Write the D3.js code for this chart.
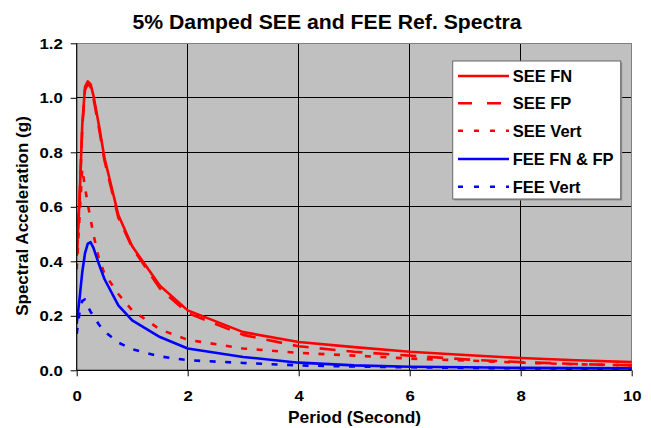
<!DOCTYPE html>
<html>
<head>
<meta charset="utf-8">
<script src="https://cdn.jsdelivr.net/npm/d3@7"></script>
<style>
  html, body { margin: 0; padding: 0; background: #fff; }
  svg { display: block; }
  text { font-family: "Liberation Sans", Arial, sans-serif; font-weight: bold; fill: #000; }
</style>
</head>
<body>
<svg id="chart" width="651" height="428"></svg>
<script>
// ---- data ----
const periods  = [0, 0.05, 0.1, 0.15, 0.2, 0.25, 0.3, 0.4, 0.5, 0.75, 1.0, 1.5, 2, 3, 4, 5, 6, 7, 8, 9, 10];
const seeFN    = [0.42, 0.62, 0.90, 1.04, 1.06, 1.05, 1.01, 0.90, 0.78, 0.57, 0.455, 0.31, 0.22, 0.14, 0.104, 0.085, 0.068, 0.056, 0.045, 0.037, 0.030];
const seeFP    = [0.42, 0.62, 0.89, 1.03, 1.05, 1.04, 1.00, 0.89, 0.77, 0.56, 0.45, 0.30, 0.21, 0.13, 0.088, 0.068, 0.054, 0.040, 0.030, 0.023, 0.018];
const seeVert  = [0.37, 0.56, 0.74, 0.67, 0.61, 0.555, 0.50, 0.41, 0.355, 0.28, 0.22, 0.15, 0.112, 0.080, 0.064, 0.054, 0.043, 0.036, 0.028, 0.022, 0.018];
const feeFNFP  = [0.17, 0.26, 0.36, 0.43, 0.465, 0.47, 0.45, 0.39, 0.335, 0.238, 0.183, 0.122, 0.080, 0.049, 0.028, 0.018, 0.013, 0.011, 0.009, 0.008, 0.007];
const feeVert  = [0.134, 0.21, 0.255, 0.26, 0.235, 0.215, 0.20, 0.168, 0.143, 0.102, 0.077, 0.051, 0.037, 0.027, 0.018, 0.014, 0.011, 0.009, 0.007, 0.006, 0.005];

const xTicks = [0, 2, 4, 6, 8, 10];
const yTicks = [0, 0.2, 0.4, 0.6, 0.8, 1.0, 1.2];

const titleText = "5% Damped SEE and FEE Ref. Spectra";
const xTitle = "Period (Second)";
const yTitle = "Spectral Acceleration (g)";

const seriesNames = ["SEE FN", "SEE FP", "SEE Vert", "FEE FN & FP", "FEE Vert"];
const seriesData  = [seeFN, seeFP, seeVert, feeFNFP, feeVert];
const seriesColor = ["#FF0000", "#FF0000", "#FF0000", "#0000FF", "#0000FF"];
const seriesDash  = [null, "16,11", "6,9.5", null, "6,9.5"];

// ---- layout ----
const svg = d3.select("#chart");
const L = 76.7, R = 631.7, T = 43.3, B = 370.3;

const x = d3.scaleLinear().domain([0, 10]).range([L, R]);
const y = d3.scaleLinear().domain([0, 1.2]).range([B, T]);

// plot background
svg.append("rect").attr("x", L).attr("y", T).attr("width", R - L).attr("height", B - T)
  .attr("fill", "#C0C0C0");

// gridlines
svg.append("g").selectAll("line.h").data(yTicks.filter(d => d > 0 && d < 1.2)).join("line")
  .attr("x1", L).attr("x2", R).attr("y1", d => y(d)).attr("y2", d => y(d))
  .attr("stroke", "#000").attr("stroke-width", 1).attr("shape-rendering", "crispEdges");
svg.append("g").selectAll("line.v").data(xTicks.filter(d => d > 0 && d < 10)).join("line")
  .attr("y1", T).attr("y2", B).attr("x1", d => x(d)).attr("x2", d => x(d))
  .attr("stroke", "#000").attr("stroke-width", 1).attr("shape-rendering", "crispEdges");

// top/right border
svg.append("path").attr("d", `M${L},${T}H${R}V${B}`).attr("fill", "none")
  .attr("stroke", "#808080").attr("stroke-width", 1.2).attr("shape-rendering", "crispEdges");

// series
const line = d3.line().x((d, i) => x(periods[i])).y(d => y(d));
svg.append("clipPath").attr("id", "clip").append("rect")
  .attr("x", L).attr("y", T - 2).attr("width", R - L + 2).attr("height", B - T + 2);
const gS = svg.append("g").attr("clip-path", "url(#clip)");
seriesData.forEach((data, k) => {
  gS.append("path").datum(data).attr("d", line)
    .attr("fill", "none").attr("stroke", seriesColor[k]).attr("stroke-width", 2.6)
    .attr("stroke-dasharray", seriesDash[k]).attr("stroke-linejoin", "round");
});

// axes
const xAxis = d3.axisBottom(x).tickValues(xTicks).tickSize(6).tickPadding(14).tickFormat(d3.format("d"));
const yAxis = d3.axisLeft(y).tickValues(yTicks).tickSize(6).tickPadding(8).tickFormat(d3.format(".1f"));
const gx = svg.append("g").attr("transform", `translate(0,${B})`).call(xAxis);
const gy = svg.append("g").attr("transform", `translate(${L},0)`).call(yAxis);
[gx, gy].forEach(g => {
  g.select(".domain").attr("stroke", "#000").attr("stroke-width", 1.2);
  g.selectAll(".tick line").attr("stroke", "#000").attr("stroke-width", 1);
  g.selectAll(".tick text").style("font-family", '"Liberation Sans", Arial, sans-serif')
    .style("font-weight", "bold").style("font-size", "15.5px").attr("fill", "#000")
    .each(function () {
      const w = this.getComputedTextLength();
      d3.select(this).attr("textLength", w * 1.08).attr("lengthAdjust", "spacingAndGlyphs");
    });
});
gx.select(".domain").attr("d", `M${L},0H${R}`);
gy.select(".domain").attr("d", `M0,${B}V${T}`);

// title
svg.append("text").attr("x", 327).attr("y", 29).attr("text-anchor", "middle")
  .style("font-size", "19.5px").attr("textLength", 389).attr("lengthAdjust", "spacingAndGlyphs")
  .text(titleText);

// x title
svg.append("text").attr("x", 354.5).attr("y", 423).attr("text-anchor", "middle")
  .style("font-size", "16.5px").attr("textLength", 133).attr("lengthAdjust", "spacingAndGlyphs")
  .text(xTitle);

// y title
svg.append("text").attr("transform", `translate(28,216) rotate(-90)`).attr("text-anchor", "middle")
  .style("font-size", "17px").text(yTitle);

// legend
const lg = svg.append("g");
lg.append("rect").attr("x", 454.2).attr("y", 62.5).attr("width", 168).attr("height", 138)
  .attr("fill", "#909090");
lg.append("rect").attr("x", 452.7).attr("y", 61).attr("width", 168).attr("height", 138)
  .attr("fill", "#fff").attr("stroke", "#666").attr("stroke-width", 1);
const legY = [76, 103.3, 130.7, 159, 186.7];
seriesNames.forEach((name, k) => {
  lg.append("line").attr("x1", 458).attr("x2", 509).attr("y1", legY[k]).attr("y2", legY[k])
    .attr("stroke", seriesColor[k]).attr("stroke-width", 2.6)
    .attr("stroke-dasharray", k === 1 ? "14,15" : (seriesDash[k] ? "5,11" : null));
  lg.append("text").attr("x", 512.7).attr("y", legY[k] + 5.8).style("font-size", "16.5px").text(name);
});
</script>
</body>
</html>
